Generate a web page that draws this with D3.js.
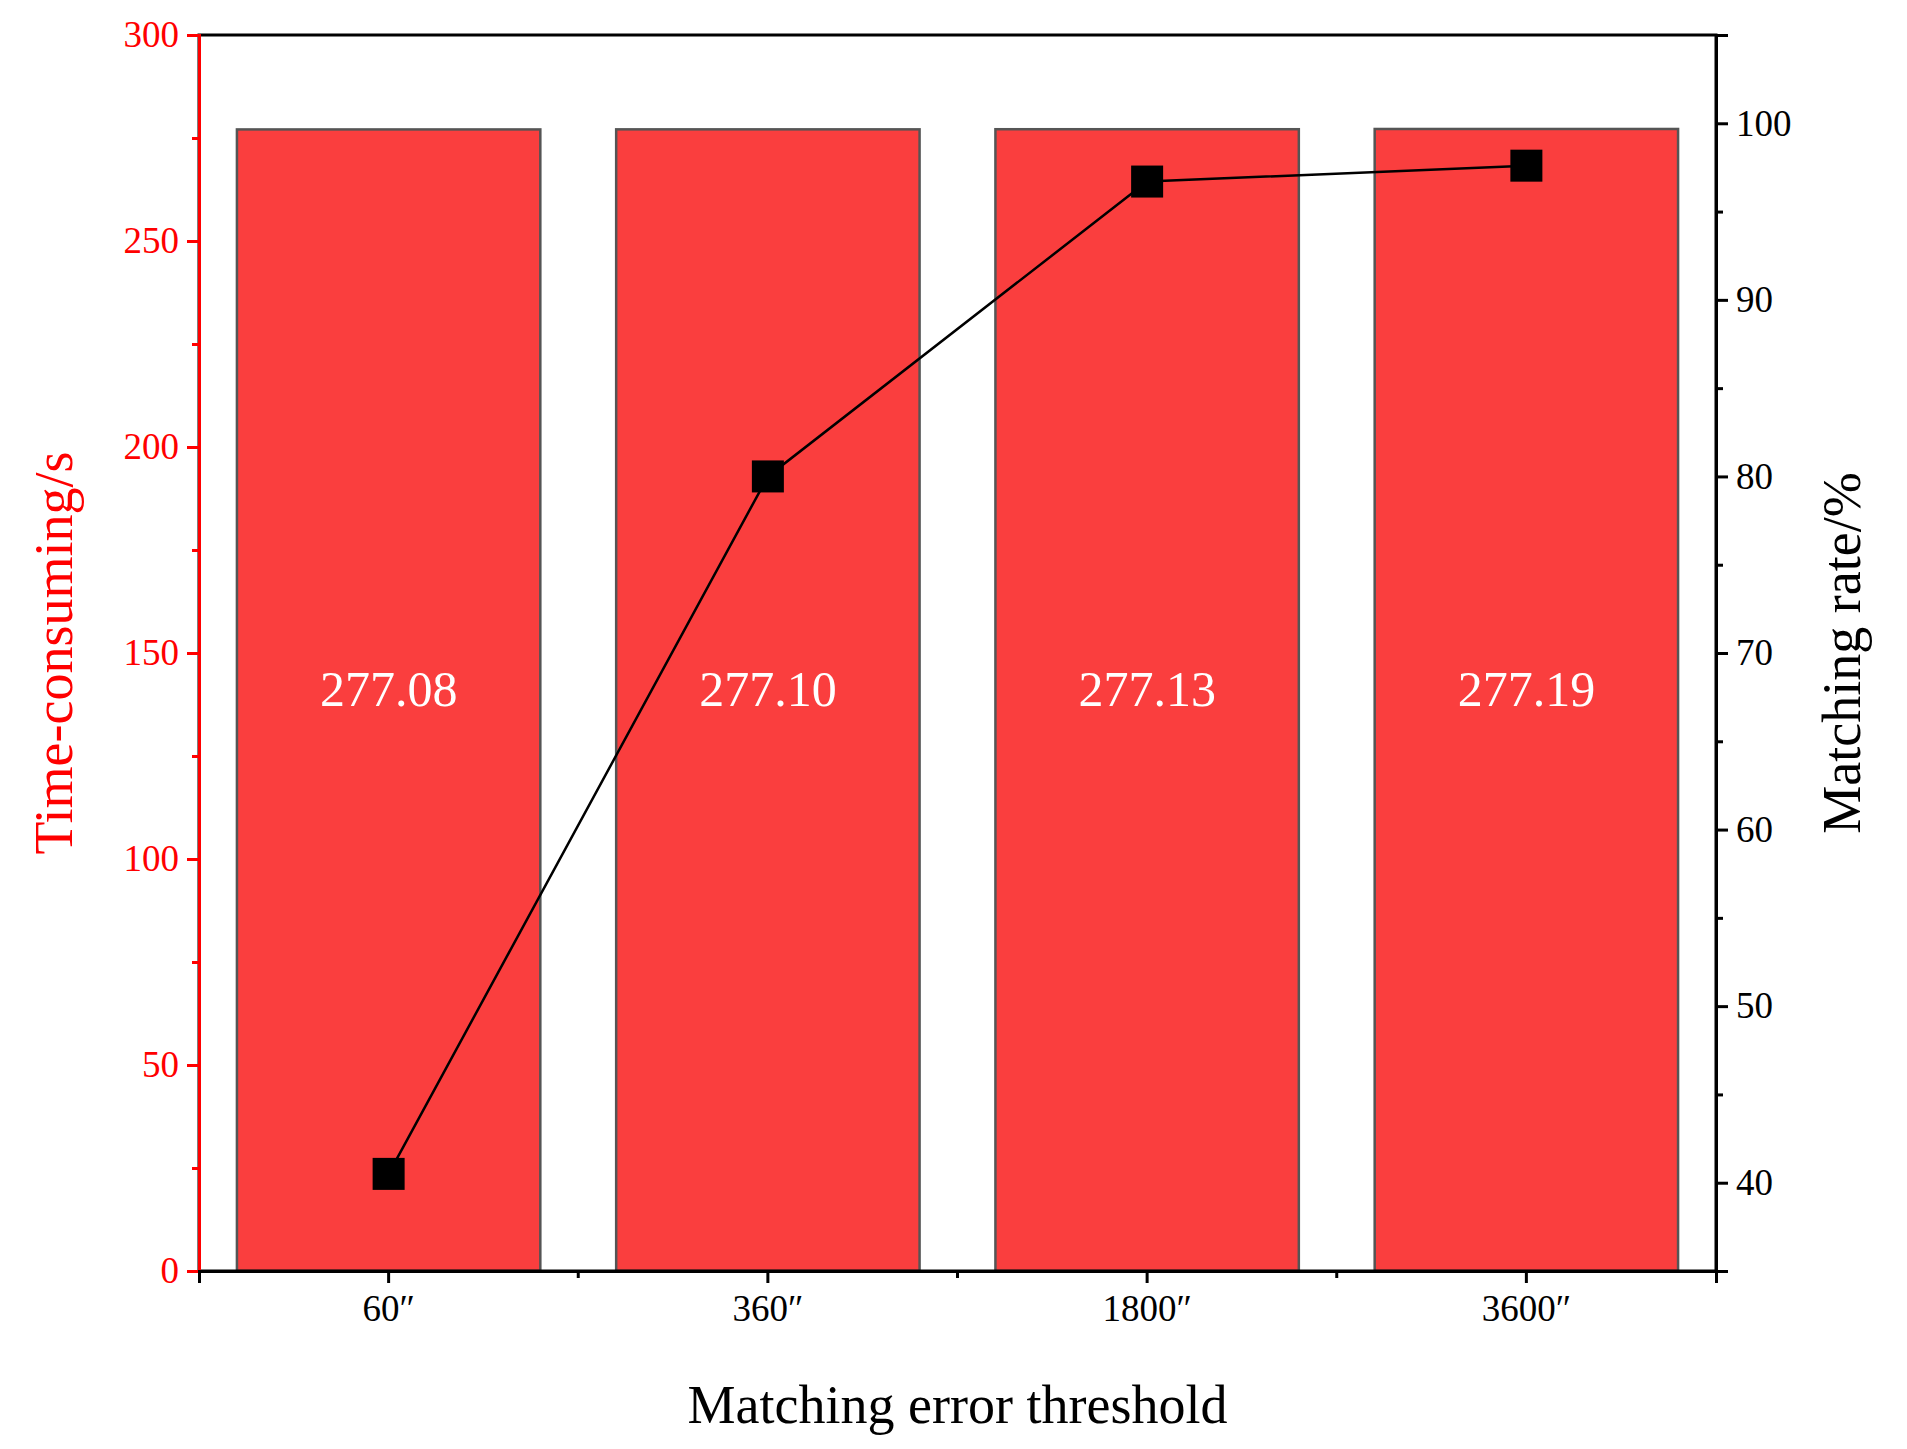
<!DOCTYPE html><html><head><meta charset="utf-8"><script src="https://cdn.jsdelivr.net/npm/d3@7"></script>
<style>body{margin:0;background:#fff}text{font-family:"Liberation Serif","Times New Roman",serif}</style></head><body>
<svg id="c" width="1907" height="1449"></svg>
<script>
const categories=["60″","360″","1800″","3600″"];
const timeValues=[277.08,277.10,277.13,277.19];
const timeLabels=["277.08","277.10","277.13","277.19"];
const rateValues=[40.5,80.0,96.7,97.6];
const leftTicks=[0,50,100,150,200,250,300];
const rightTicks=[40,50,60,70,80,90,100];

const svg=d3.select("#c");
const L=199,R=1716,T=35,B=1271;
const x=d3.scaleBand().domain(categories).range([L,R]).paddingInner(0.2).paddingOuter(0.1);
const yL=d3.scaleLinear().domain([0,300]).range([B,T]);
const yR=d3.scaleLinear().domain([35,105]).range([B,T]);
const red="#ff0000";

svg.selectAll("rect.bar").data(categories).enter().append("rect")
 .attr("x",d=>x(d)).attr("width",x.bandwidth())
 .attr("y",(d,i)=>yL(timeValues[i])).attr("height",(d,i)=>B-yL(timeValues[i]))
 .attr("fill","#fa3e3e").attr("stroke","#555").attr("stroke-width",2.5);
svg.selectAll("text.bl").data(categories).enter().append("text")
 .attr("x",d=>x(d)+x.bandwidth()/2).attr("y",yL(140)).attr("text-anchor","middle")
 .attr("dominant-baseline","middle").attr("fill","#fff").attr("font-size",50).text((d,i)=>timeLabels[i]);

const line=d3.line().x((d,i)=>x(categories[i])+x.bandwidth()/2).y(d=>yR(d));
svg.append("path").datum(rateValues).attr("d",line).attr("fill","none").attr("stroke","#000").attr("stroke-width",2.5);
svg.selectAll("rect.pt").data(rateValues).enter().append("rect")
 .attr("x",(d,i)=>x(categories[i])+x.bandwidth()/2-16).attr("y",d=>yR(d)-16)
 .attr("width",32).attr("height",32).attr("fill","#000");

svg.append("rect").attr("x",L).attr("y",T).attr("width",R-L).attr("height",B-T).attr("fill","none").attr("stroke","#000").attr("stroke-width",3);

// left axis
const la=svg.append("g").attr("transform",`translate(${L},0)`)
 .call(d3.axisLeft(yL).tickValues(leftTicks).tickSize(12).tickPadding(8));
la.select(".domain").attr("stroke",red).attr("stroke-width",3);
la.selectAll(".tick line").attr("stroke",red).attr("stroke-width",3);
la.selectAll("text").attr("fill",red).attr("font-size",37);
svg.append("g").attr("transform",`translate(${L},0)`)
 .call(d3.axisLeft(yL).tickValues(d3.range(25,300,50)).tickSize(7).tickFormat(""))
 .call(g=>{g.select(".domain").remove();g.selectAll("line").attr("stroke",red).attr("stroke-width",3);});

// right axis
const ra=svg.append("g").attr("transform",`translate(${R},0)`)
 .call(d3.axisRight(yR).tickValues(rightTicks).tickSize(12).tickPadding(8));
ra.select(".domain").attr("stroke","#000").attr("stroke-width",3);
ra.selectAll(".tick line").attr("stroke-width",3);
ra.selectAll("text").attr("fill","#000").attr("font-size",37);
svg.append("g").attr("transform",`translate(${R},0)`)
 .call(d3.axisRight(yR).tickValues(d3.range(45,105,10)).tickSize(7).tickFormat(""))
 .call(g=>{g.select(".domain").remove();g.selectAll("line").attr("stroke-width",3);});

// bottom axis
const ba=svg.append("g").attr("transform",`translate(0,${B})`)
 .call(d3.axisBottom(x).tickSize(12).tickPadding(12));
ba.select(".domain").attr("stroke-width",3);
ba.selectAll(".tick line").attr("stroke-width",3);
ba.selectAll("text").attr("font-size",37);
const step=x.step();
svg.append("g").selectAll("line").data(categories.slice(1)).enter().append("line")
 .attr("x1",d=>x(d)-step*0.1).attr("x2",d=>x(d)-step*0.1).attr("y1",B).attr("y2",B+7)
 .attr("stroke","#000").attr("stroke-width",3);

svg.append("text").attr("x",(L+R)/2).attr("y",1423).attr("text-anchor","middle").attr("font-size",54).text("Matching error threshold");
svg.append("text").attr("transform",`translate(72,${(T+B)/2}) rotate(-90)`).attr("text-anchor","middle").attr("fill",red).attr("font-size",54).text("Time-consuming/s");
svg.append("text").attr("transform",`translate(1860,${(T+B)/2}) rotate(-90)`).attr("text-anchor","middle").attr("font-size",54).text("Matching rate/%");
</script></body></html>
